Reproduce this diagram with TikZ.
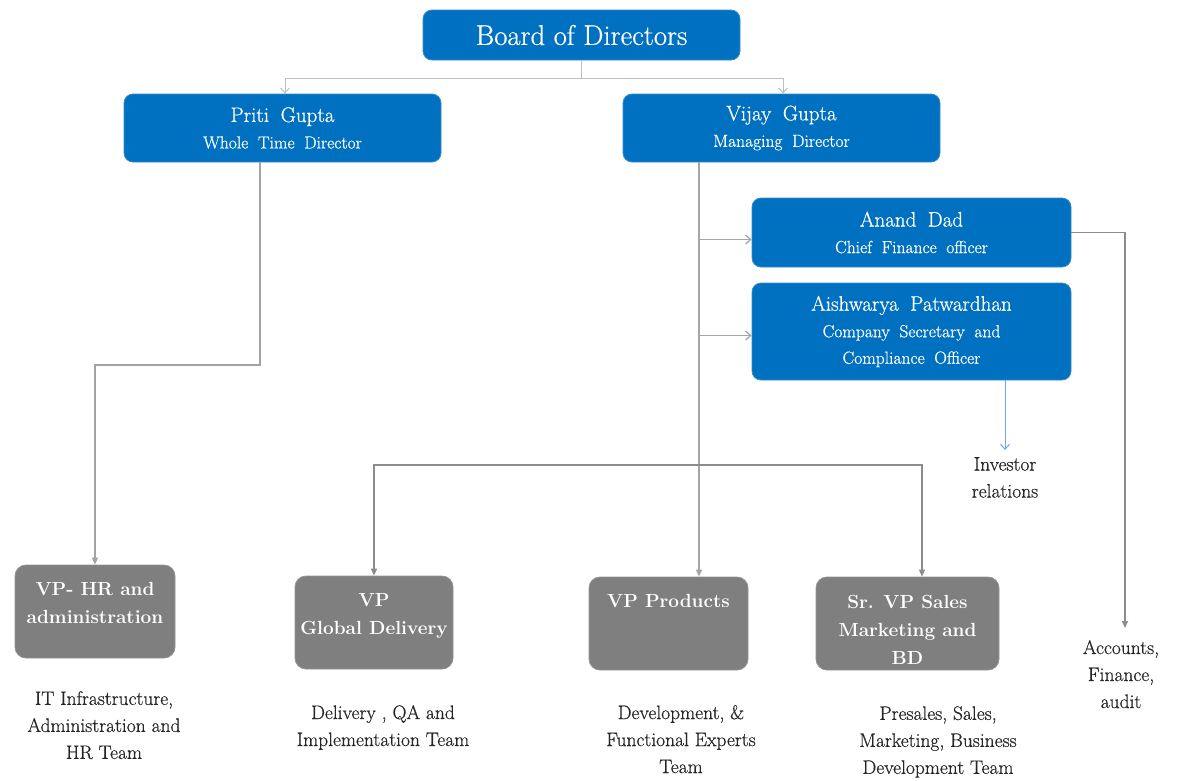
\documentclass[tikz,border=0pt]{standalone}
\usepackage{fontspec}
\newfontfamily\heavy{Latin Modern Roman}[FakeBold=0.6]
\usetikzlibrary{arrows.meta}
\definecolor{bblue}{HTML}{0070C0}
\definecolor{bgray}{HTML}{7F7F7F}
\definecolor{lgray}{HTML}{BFBFBF}
\definecolor{mgray}{HTML}{A6A6A6}
\definecolor{dgray}{HTML}{8C8C8C}
\definecolor{lblue}{HTML}{6FA8DC}
\newcommand{\widesp}{\spaceskip=0.55em plus 0.1em\relax}
\newcommand{\nm}[1]{{\fontsize{21}{26.5}\selectfont\widesp #1}}
\tikzset{
  bluebox/.style={fill=bblue, draw=bblue!80!white, line width=0.8pt, rounded corners=9pt, text=white, align=center, inner sep=0pt},
  graybox/.style={fill=bgray, draw=bgray!85!white, line width=0.8pt, rounded corners=11pt, inner sep=0pt},
  graytext/.style={anchor=north, inner sep=0pt, text=white, align=center, font=\fontsize{19}{28}\selectfont\bfseries},
  desc/.style={anchor=north, inner sep=0pt, align=center, text=black!85, font=\heavy\fontsize{19.5}{27}\selectfont},
  namefont/.style={font=\heavy\fontsize{17.5}{26.5}\selectfont\widesp},
  topline/.style={draw=lgray, line width=1pt},
  opentip/.style={-{Straight Barb[length=5pt,width=9pt]}},
  thickline/.style={draw=mgray, line width=2pt},
  filltip/.style={-{Triangle[length=7pt,width=6pt]}},
}
\begin{document}
\begin{tikzpicture}[x=1pt,y=-1pt]
\useasboundingbox (0,0) rectangle (1180,780);

% blue boxes
\node[bluebox, minimum width=317pt, minimum height=50pt, font=\heavy\fontsize{28.5}{34}\selectfont] (board) at (581.5,35) {Board of Directors};
\node[bluebox, namefont, minimum width=317pt, minimum height=68pt] (priti) at (282.5,128) {\nm{Priti Gupta}\\Whole Time Director};
\node[bluebox, namefont, minimum width=317pt, minimum height=68pt] (vijay) at (781.5,128) {\nm{Vijay Gupta}\\Managing Director};
\node[bluebox, namefont, minimum width=319pt, minimum height=69pt] (anand) at (911.5,232.5) {\nm{Anand Dad}\\Chief Finance officer};
\node[bluebox, namefont, minimum width=319pt, minimum height=97pt] (aish) at (911.5,331.5) {\nm{Aishwarya Patwardhan}\\Company Secretary and\\Compliance Officer};

% gray boxes
\node[graybox, minimum width=160pt, minimum height=93pt] (hr) at (95,611.5) {};
\node[graybox, minimum width=158pt, minimum height=93pt] (gd) at (374,622.5) {};
\node[graybox, minimum width=159pt, minimum height=93pt] (prod) at (668.5,623.5) {};
\node[graybox, minimum width=183pt, minimum height=93pt] (sales) at (907.5,623.5) {};

\node[graytext] (hrT) at ([yshift=-18pt]hr.north) {VP- HR and\\administration};
\node[graytext] (gdT) at ([yshift=-18pt]gd.north) {VP\\Global Delivery};
\node[graytext] (prodT) at ([yshift=-18pt]prod.north) {VP Products};
\node[graytext] (salesT) at ([yshift=-18pt]sales.north) {Sr. VP Sales\\Marketing and\\BD};

% descriptions
\node[desc] (hrD) at (104,691) {IT Infrastructure,\\Administration and\\HR Team};
\node[desc] (gdD) at (383,705) {Delivery , QA and\\Implementation Team};
\node[desc] (prodD) at (681,705) {Development, \&\\Functional Experts\\Team};
\node[desc] (salesD) at (938,706) {Presales, Sales,\\Marketing, Business\\Development Team};
\node[desc] (acc) at (1121,640) {Accounts,\\Finance,\\audit};
\node[desc] (inv) at (1005,457) {Investor\\relations};

% connectors from board
\draw[topline] (board.south) -- ++(0,18) coordinate (bj);
\draw[topline, opentip] (bj) -| ([xshift=2.5pt]priti.north);
\draw[topline, opentip] (bj) -| ([xshift=1.5pt]vijay.north);

% Priti to HR
\draw[thickline, draw=dgray!80!white, filltip] ([xshift=-22.5pt]priti.south) -- ++(0,203) -| (hr.north);

% Vijay vertical
\coordinate (vx) at ([xshift=-82.5pt]vijay.south);
\coordinate (aw) at ([yshift=-7pt]anand.west);
\coordinate (sw) at ([yshift=-4pt]aish.west);
\draw[thickline, filltip] (vx) -- (vx |- prod.north);
\draw[draw=mgray, line width=1.3pt, opentip] (vx |- aw) -- (aw);
\draw[draw=mgray, line width=1.3pt, opentip] (vx |- sw) -- (sw);

% branch at y=465
\coordinate (jn) at (699,465);
\draw[draw=dgray, line width=1.6pt, filltip] (jn) -| (gd.north);
\draw[draw=dgray, line width=1.6pt, filltip] (jn) -| ([xshift=14.5pt]sales.north);

% Anand to accounts
\draw[draw=dgray, line width=1.6pt, filltip] (anand.east) -| ([xshift=4pt,yshift=12pt]acc.north);

% Aishwarya to investor relations
\draw[draw=lblue, line width=1pt, opentip] (inv.north |- aish.south) -- ([yshift=7pt]inv.north);
\end{tikzpicture}
\end{document}
